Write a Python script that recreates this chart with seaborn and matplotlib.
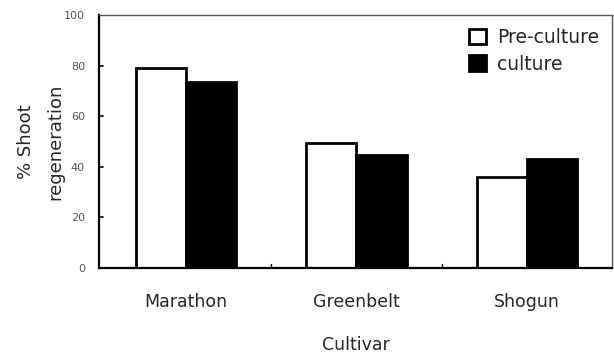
import pandas as pd
import seaborn as sns
import matplotlib.pyplot as plt

cultivars = ['Marathon', 'Greenbelt', 'Shogun']
pre_culture = [79.2, 49.2, 35.8]
culture = [73.4, 44.6, 43.0]
yticks = [0, 20, 40, 60, 80, 100]

df = pd.DataFrame({
    'Cultivar': cultivars * 2,
    'value': pre_culture + culture,
    'group': ['Pre-culture'] * 3 + ['culture'] * 3,
})

sns.set_style('white')
plt.rcParams['font.family'] = ['DejaVu Sans']

fig = plt.figure(figsize=(6.14, 3.55), dpi=100)
ax = fig.add_axes([0.161, 0.245, 0.836, 0.713])

sns.barplot(data=df, x='Cultivar', y='value', hue='group',
            palette={'Pre-culture': 'white', 'culture': 'black'},
            edgecolor='black', linewidth=2, width=0.59, ax=ax)

ax.set_xlim(-0.51, 2.5)
ax.set_ylim(0, 100)
ax.set_yticks(yticks)
ax.set_xticks([0, 1, 2])
ax.set_xticklabels(cultivars, fontsize=12.5)
ax.tick_params(axis='y', labelsize=8, labelcolor='#555555', length=0, pad=10)
ax.tick_params(axis='x', length=0, pad=18)

# short inward tick marks on the y axis
ytr = ax.get_yaxis_transform()
for yv in yticks[1:-1]:
    ax.plot([0, 0.009], [yv, yv], color='black', lw=1.2, transform=ytr,
            clip_on=False)
# small inward ticks between the groups
for xb in [0.5, 1.5]:
    ax.plot([xb, xb], [0, 1.5], color='black', lw=1)

ax.set_xlabel('Cultivar', fontsize=12.5, labelpad=18)
ax.set_ylabel('% Shoot\nregeneration', fontsize=13, labelpad=0,
              linespacing=1.8)

for side in ['left', 'bottom']:
    ax.spines[side].set_linewidth(1.6)
    ax.spines[side].set_color('black')
for side in ['top', 'right']:
    ax.spines[side].set_linewidth(1.0)
    ax.spines[side].set_color('#555555')
    ax.spines[side].set_linestyle((0, (2, 1)))

leg = ax.legend(loc='upper right', frameon=False, fontsize=13.5,
                handlelength=0.9, handleheight=0.9, handletextpad=0.6,
                labelspacing=0.4, borderaxespad=0.3)
for h in leg.legend_handles:
    h.set_edgecolor('black')
    h.set_linewidth(2)

fig.savefig('out.png', dpi=100)
